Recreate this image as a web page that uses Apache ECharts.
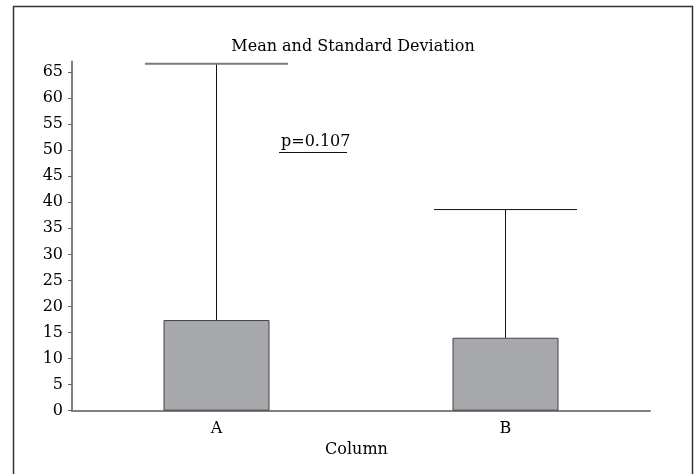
<!DOCTYPE html>
<html><head><meta charset="utf-8">
<script src="https://cdn.jsdelivr.net/npm/echarts@6/dist/echarts.min.js"></script>
<style>html,body{margin:0;padding:0;background:#fff}#c{width:696px;height:474px}</style>
</head><body><div id="c"></div>
<script>
const categories = ['A', 'B'];
const means = [17.4, 14.0];
const upperSD = [66.6, 38.6];
const yTicks = [0, 5, 10, 15, 20, 25, 30, 35, 40, 45, 50, 55, 60, 65];
const pLabel = 'p=0.107';

const FONT = 'DejaVu Serif';
const chart = echarts.init(document.getElementById('c'));

chart.setOption({
  animation: false,
  backgroundColor: '#fff',
  title: {
    text: 'Mean and Standard Deviation',
    left: 348, top: 34, textAlign: 'center',
    textStyle: { fontFamily: FONT, fontSize: 16, fontWeight: 'normal', color: '#000' }
  },
  grid: { left: 72, right: 46, top: 61.6, bottom: 63.3 },
  xAxis: {
    type: 'category', data: categories,
    name: 'Column', nameLocation: 'middle', nameGap: 30,
    nameTextStyle: { fontFamily: FONT, fontSize: 16, color: '#000', padding: [0, 9, 0, 0] },
    axisLine: { lineStyle: { color: '#808080', width: 2 } },
    axisTick: { alignWithLabel: true, length: 5, lineStyle: { color: '#222' } },
    axisLabel: { fontFamily: FONT, fontSize: 16, color: '#000', margin: 10 },
    splitLine: { show: false }
  },
  yAxis: {
    type: 'value', min: 0, max: 67, interval: 5,
    axisLine: { show: true, lineStyle: { color: '#808080', width: 2 } },
    axisTick: { show: true, length: 4, lineStyle: { color: '#666' }, customValues: yTicks },
    axisLabel: { fontFamily: FONT, fontSize: 16, color: '#000', margin: 9, customValues: yTicks },
    splitLine: { show: false }
  },
  series: [
    {
      type: 'bar', data: means, barWidth: 106,
      itemStyle: { color: '#a7a8ab', borderColor: '#444', borderWidth: 1 },
      z: 2
    },
    {
      type: 'custom',
      data: categories.map((c, i) => [i, means[i], upperSD[i]]),
      renderItem: function (params, api) {
        const i = api.value(0);
        const lo = api.coord([i, api.value(1)]);
        const hi = api.coord([i, api.value(2)]);
        const half = 71.5;
        const capGray = i === 0;
        return {
          type: 'group',
          children: [
            { type: 'line', shape: { x1: lo[0], y1: lo[1], x2: hi[0], y2: hi[1] },
              style: { stroke: '#111', lineWidth: 1 } },
            { type: 'line', shape: { x1: hi[0] - half, y1: hi[1], x2: hi[0] + half, y2: hi[1] },
              style: { stroke: capGray ? '#7a7a7a' : '#111', lineWidth: capGray ? 2 : 1 } }
          ]
        };
      },
      z: 3
    }
  ],
  graphic: [
    { type: 'rect', shape: { x: 13.5, y: 6.5, width: 679, height: 480 },
      style: { fill: 'none', stroke: '#333', lineWidth: 1.5 }, silent: true },
    { type: 'text', left: 281, top: 134,
      style: { text: pLabel, fontFamily: FONT, fontSize: 16, fill: '#000' } },
    { type: 'line', shape: { x1: 279, y1: 152.5, x2: 347, y2: 152.5 },
      style: { stroke: '#111', lineWidth: 1 } }
  ]
});
</script>
</body></html>
